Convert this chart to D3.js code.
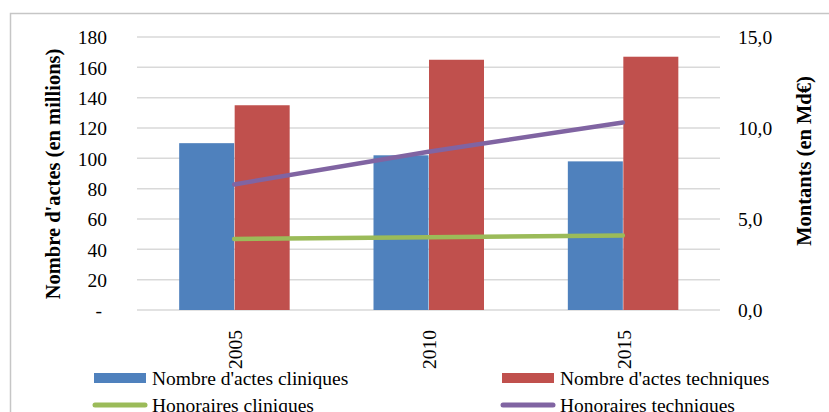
<!DOCTYPE html>
<html>
<head>
<meta charset="utf-8">
<script src="https://cdn.jsdelivr.net/npm/d3@7"></script>
<style>
  html, body { margin: 0; padding: 0; background: #fff; }
  svg { display: block; }
  svg text { font-family: "Liberation Serif", "Times New Roman", serif !important; fill: #000; }
</style>
</head>
<body>
<svg id="chart" width="829" height="412"></svg>
<script>
// Years shown on the category axis
const years = ["2005", "2010", "2015"];
// Number of acts (millions) — bars, left axis
const actesCliniques = [110, 102, 98];
const actesTechniques = [135, 165, 167];
// Fees (billions of euros) — lines, right axis
const honorairesCliniques = [3.9, 4.0, 4.1];
const honorairesTechniques = [6.9, 8.7, 10.3];
// Axis tick values
const leftTicks = [0, 20, 40, 60, 80, 100, 120, 140, 160, 180];
const rightTicks = [0, 5, 10, 15];

const colors = {
  cliniques: "#4F81BD",
  techniques: "#C0504D",
  honCliniques: "#9BBB59",
  honTechniques: "#8064A2"
};
const serif = "'Liberation Serif', 'Times New Roman', serif";

const svg = d3.select("#chart");
const plot = { left: 137, right: 720, top: 37, bottom: 310 };

// Outer chart frame
svg.append("rect")
  .attr("x", 10.5).attr("y", 13.5)
  .attr("width", 840).attr("height", 420)
  .attr("fill", "none").attr("stroke", "#c6c6c6").attr("stroke-width", 1.5);

const x = d3.scaleBand().domain(years).range([plot.left, plot.right]).paddingInner(0).paddingOuter(0);
const yL = d3.scaleLinear().domain([0, 180]).range([plot.bottom, plot.top]);
const yR = d3.scaleLinear().domain([0, 15]).range([plot.bottom, plot.top]);

// Horizontal gridlines
svg.append("g")
  .selectAll("line")
  .data(leftTicks)
  .join("line")
  .attr("x1", plot.left).attr("x2", plot.right)
  .attr("y1", d => yL(d)).attr("y2", d => yL(d))
  .attr("stroke", "#d9d9d9").attr("stroke-width", 1.5);

// Left axis
const leftAxis = svg.append("g")
  .attr("transform", `translate(${plot.left - 30},0)`)
  .call(d3.axisLeft(yL).tickValues(leftTicks).tickSize(0).tickPadding(0)
    .tickFormat(d => d === 0 ? "-" : d));
leftAxis.attr("font-family", null).attr("font-size", null);
leftAxis.select(".domain").remove();
leftAxis.selectAll("text")
  .style("font-family", serif)
  .style("font-size", "19.5px")
  .attr("dy", "0.35em")
  .attr("fill", "#000");
leftAxis.selectAll(".tick text").filter(d => d === 0).attr("dx", "-5");

// Right axis
const rightAxis = svg.append("g")
  .attr("transform", `translate(${plot.right + 18},0)`)
  .call(d3.axisRight(yR).tickValues(rightTicks).tickSize(0).tickPadding(0)
    .tickFormat(d => d3.format(".1f")(d).replace(".", ",")));
rightAxis.attr("font-family", null).attr("font-size", null);
rightAxis.select(".domain").remove();
rightAxis.selectAll("text")
  .style("font-family", serif)
  .style("font-size", "19.5px")
  .attr("dy", "0.35em")
  .attr("fill", "#000");

// Grouped bars: two adjacent bars centred in each year band
const barW = 55;
const inner = d3.scaleBand().domain(["c", "t"])
  .range([x.bandwidth() / 2 - barW, x.bandwidth() / 2 + barW]).padding(0);
const barData = years.map((yr, i) => ({ yr, c: actesCliniques[i], t: actesTechniques[i] }));
const groups = svg.append("g").selectAll("g")
  .data(barData)
  .join("g")
  .attr("transform", d => `translate(${x(d.yr)},0)`);
groups.append("rect")
  .attr("x", inner("c")).attr("width", inner.bandwidth())
  .attr("y", d => yL(d.c)).attr("height", d => yL(0) - yL(d.c))
  .attr("fill", colors.cliniques);
groups.append("rect")
  .attr("x", inner("t") + 0.5).attr("width", inner.bandwidth())
  .attr("y", d => yL(d.t)).attr("height", d => yL(0) - yL(d.t))
  .attr("fill", colors.techniques);

// Lines on the right axis
const cx = yr => x(yr) + x.bandwidth() / 2;
const line = d3.line().x(d => cx(d.yr)).y(d => yR(d.v));
const series = [
  { values: honorairesCliniques, color: colors.honCliniques },
  { values: honorairesTechniques, color: colors.honTechniques }
];
series.forEach(s => {
  svg.append("path")
    .datum(years.map((yr, i) => ({ yr, v: s.values[i] })))
    .attr("d", line)
    .attr("fill", "none")
    .attr("stroke", s.color)
    .attr("stroke-width", 4.5)
    .attr("stroke-linecap", "round")
    .attr("stroke-linejoin", "round");
});

// Category labels, rotated
svg.append("g").selectAll("text")
  .data(years)
  .join("text")
  .attr("transform", d => `translate(${cx(d) + 1},330) rotate(-90)`)
  .attr("text-anchor", "end")
  .attr("dy", "0.35em")
  .style("font-size", "19.5px")
  .text(d => d);

// Axis titles
svg.append("text")
  .attr("transform", `translate(60,174) rotate(-90)`)
  .attr("text-anchor", "middle")
  .style("font-size", "20.5px")
  .style("font-weight", "bold")
  .text("Nombre d'actes (en millions)");
svg.append("text")
  .attr("transform", `translate(811,161) rotate(-90)`)
  .attr("text-anchor", "middle")
  .style("font-size", "20.5px")
  .style("font-weight", "bold")
  .text("Montants (en Md€)");

// Legend
const legendItems = [
  { label: "Nombre d'actes cliniques", color: colors.cliniques, type: "rect", x: 94, y: 378 },
  { label: "Nombre d'actes techniques", color: colors.techniques, type: "rect", x: 502, y: 378 },
  { label: "Honoraires cliniques", color: colors.honCliniques, type: "line", x: 94, y: 405 },
  { label: "Honoraires techniques", color: colors.honTechniques, type: "line", x: 502, y: 405 }
];
const lg = svg.append("g").selectAll("g")
  .data(legendItems)
  .join("g")
  .attr("transform", d => `translate(${d.x},${d.y})`);
lg.filter(d => d.type === "rect").append("rect")
  .attr("x", 0).attr("y", -5).attr("width", 52).attr("height", 10)
  .attr("fill", d => d.color);
lg.filter(d => d.type === "line").append("line")
  .attr("x1", 1).attr("x2", 51).attr("y1", 0).attr("y2", 0)
  .attr("stroke", d => d.color).attr("stroke-width", 5).attr("stroke-linecap", "round");
lg.append("text")
  .attr("x", 58).attr("y", 7)
  .style("font-size", "19.5px")
  .text(d => d.label);
</script>
</body>
</html>
